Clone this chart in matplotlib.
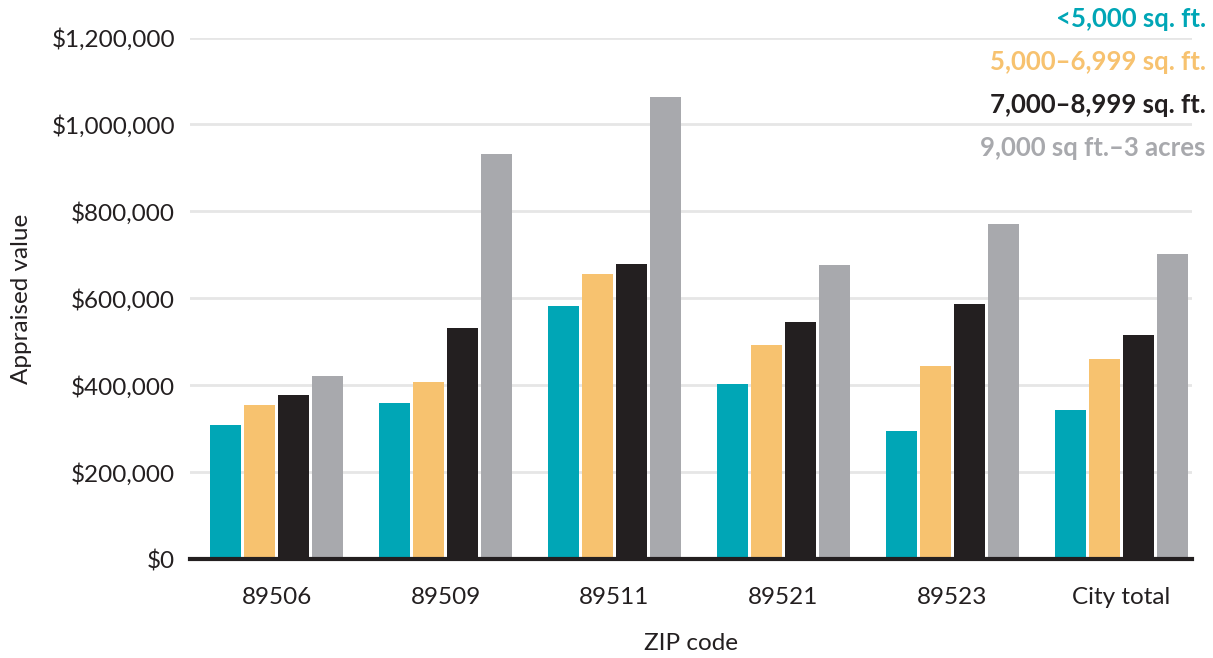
import numpy as np
import matplotlib.pyplot as plt
from matplotlib.ticker import FuncFormatter

plt.rcParams['font.family'] = ['Lato', 'DejaVu Sans']

zips = ["89506", "89509", "89511", "89521", "89523", "City total"]
lot_sizes = ["<5,000 sq. ft.", "5,000–6,999 sq. ft.", "7,000–8,999 sq. ft.", "9,000 sq ft.–3 acres"]

under_5000 = [308000, 359000, 582000, 402000, 294000, 343000]
from_5000 = [354000, 407000, 655000, 492000, 444000, 460000]
from_7000 = [379000, 531000, 680000, 545000, 586000, 515000]
over_9000 = [421000, 933000, 1064000, 676000, 770000, 701000]

colors = ["#00a6b6", "#f7c26f", "#231f20", "#a8a9ad"]
text_colors = ["#00a6b6", "#f7c26f", "#231f20", "#a8a9ad"]

fig = plt.figure(figsize=(12.13, 6.58), dpi=100)
ax = fig.add_axes([0.157, 0.15, 0.826, 0.793])

x = np.arange(len(zips))
width = 0.184
offsets = [-0.3, -0.1, 0.1, 0.3]
for vals, off, c in zip([under_5000, from_5000, from_7000, over_9000], offsets, colors):
    ax.bar(x + off, vals, width=width, color=c, zorder=3)

ax.set_ylim(0, 1200000)
ax.set_xlim(-0.51, 5.42)
ax.set_yticks(np.arange(0, 1200001, 200000))
ax.yaxis.set_major_formatter(FuncFormatter(lambda v, p: f"${v:,.0f}"))
ax.set_xticks(x)
ax.set_xticklabels(zips)
ax.tick_params(axis='both', length=0, labelsize=17.5, colors="#231f20")
ax.tick_params(axis='y', pad=11)
ax.tick_params(axis='x', pad=20)

ax.grid(axis='y', color="#e6e6e6", linewidth=2, zorder=0)
for s in ["top", "right", "left"]:
    ax.spines[s].set_visible(False)
ax.spines["bottom"].set_color("#231f20")
ax.spines["bottom"].set_linewidth(3)
ax.spines["bottom"].set_zorder(4)

ax.set_xlabel("ZIP code", fontsize=17.5, color="#231f20", labelpad=18)
ax.set_ylabel("Appraised value", fontsize=17.5, color="#231f20", labelpad=14)

# legend as coloured text in the top right corner
for i, (lab, c) in enumerate(zip(lot_sizes, text_colors)):
    fig.text(0.994, 1 - (19 + 43 * i) / 658, lab, color=c, fontsize=18.5,
             fontweight='bold', ha='right', va='center')

plt.savefig("out.png", dpi=100)
